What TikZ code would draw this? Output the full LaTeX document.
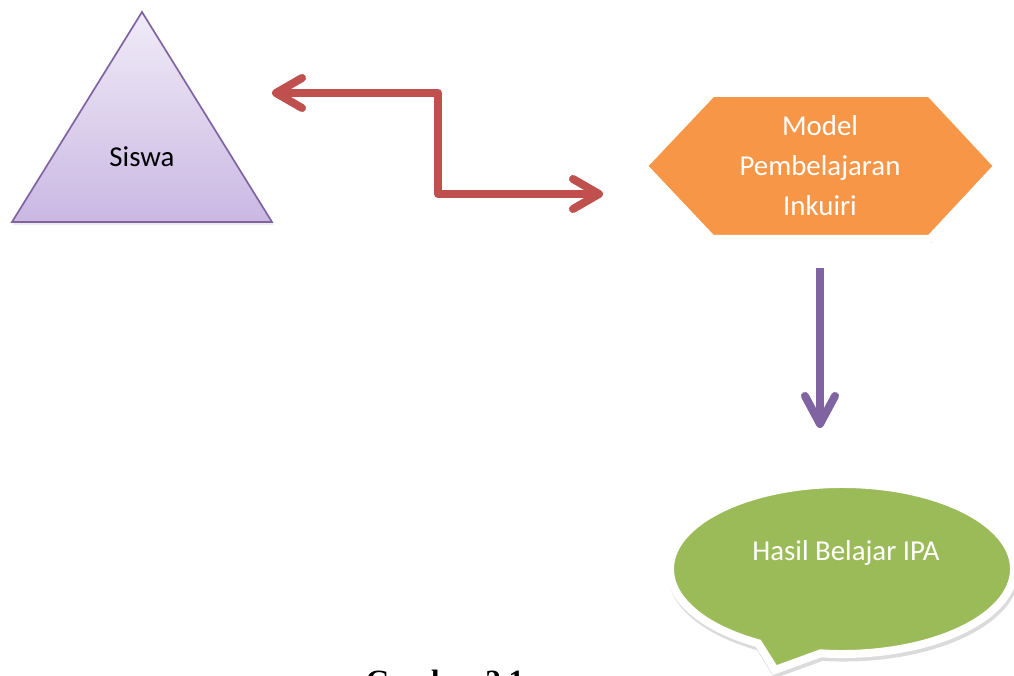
\documentclass[tikz,border=0pt]{standalone}
\usepackage{fontspec}
\setmainfont{Carlito}
\newfontfamily\capfont{Liberation Serif}
\usetikzlibrary{arrows.meta,shapes.callouts,shadows}
\definecolor{linkred}{HTML}{C0504D}
\definecolor{flowpurple}{HTML}{8064A2}
\definecolor{hexorange}{HTML}{F79646}
\definecolor{bubblegreen}{HTML}{9BBB59}
\definecolor{tritop}{HTML}{F0EBF7}
\definecolor{tribot}{HTML}{CAB8E3}
\definecolor{triedge}{HTML}{8064A2}
\begin{document}
\begin{tikzpicture}[x=0.025cm, y=-0.025cm,
    lbl/.style={font=\fontsize{20.5}{28.4}\selectfont, align=center, inner sep=0pt},
    soft/.style={drop shadow={shadow xshift=1pt, shadow yshift=-2.5pt, opacity=.14, fill=black, draw=black}},
    tri/.style={draw=triedge, line width=1.2pt, top color=tritop, bottom color=tribot,
                drop shadow={shadow xshift=1pt, shadow yshift=-2pt, opacity=.15}},
    hexa/.style={draw=white, line width=2mm, fill=hexorange, line join=round, soft},
    bubble/.style={ellipse callout, draw=white, line width=2mm, fill=bubblegreen,
                   minimum width=8.6cm, minimum height=4.25cm, callout pointer arc=22,
                   inner sep=0pt, soft},
    link/.style={draw=linkred, line width=2mm, line join=round, {Straight Barb[length=6.5mm, width=7.5mm, line cap=round, line join=round]}-{Straight Barb[length=6.5mm, width=7.5mm, line cap=round, line join=round]}},
    down/.style={draw=flowpurple, line width=2mm, -{Straight Barb[length=7mm, width=7.5mm, line cap=round, line join=round]}},
  ]
    \clip (0,0) rectangle (1014,676);
    \fill[white] (0,0) rectangle (1014,676);

    % Siswa
    \path[tri] (12,222) -- (142,12) -- (272,222) -- cycle;
    \node[lbl] (siswa) at (142,157) {Siswa};

    % Model
    \path[hexa] (643,166) -- (712,93) -- (930,93) -- (998,166) -- (930,239) -- (712,239) -- cycle;
    \node[lbl, white] (model) at (820,166) {Model\\Pembelajaran\\Inkuiri};

    % Hasil
    \node[bubble, callout absolute pointer={(775,670)}] (hasil) at (842,569) {};
    \node[lbl, white] (hasiltxt) at (846,553) {Hasil Belajar IPA};

    % Connectors
    \coordinate (sw)   at (272,93);
    \coordinate (bend) at (438,143);
    \coordinate (hx)   at (603,194);
    \draw[link] (sw) -| (bend) |- (hx);

    \coordinate (dtop) at (820,268);
    \coordinate (dend) at (820,428);
    \draw[down] (dtop) -- (dend);

    % Caption
    \node[font=\capfont\bfseries\fontsize{22}{26}\selectfont, anchor=base, inner sep=0pt] (cap) at (445,691) {Gambar 2.1};
\end{tikzpicture}
\end{document}
